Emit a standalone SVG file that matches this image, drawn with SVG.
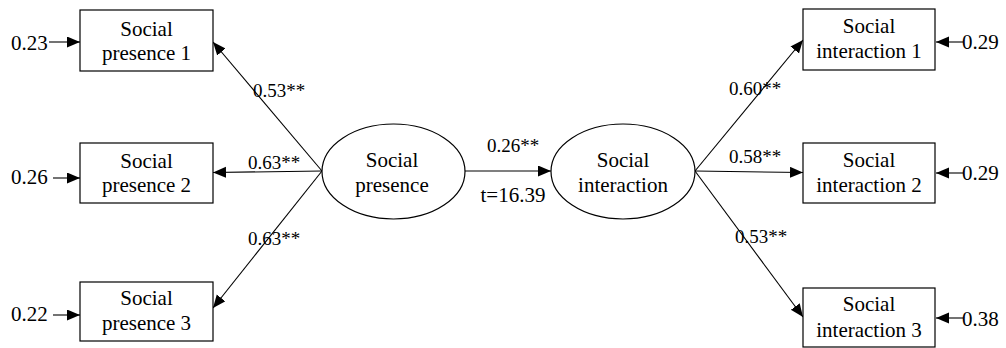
<svg xmlns="http://www.w3.org/2000/svg" width="1006" height="348" viewBox="0 0 1006 348" font-family="'Liberation Serif', 'Times New Roman', 'DejaVu Serif', serif">
<style>
text{font-family:'Liberation Serif','Times New Roman','DejaVu Serif',serif;font-size:21px;fill:#000}
.c{text-anchor:middle}
.box{fill:#fff;stroke:#000;stroke-width:1.2}
.ell{fill:#fff;stroke:#000;stroke-width:1.2}
.ln{stroke:#000;stroke-width:1.1;fill:none;marker-end:url(#ah)}
.lbl{font-size:19px}
</style>
<defs>
<marker id="ah" markerUnits="userSpaceOnUse" markerWidth="14" markerHeight="12" refX="13" refY="5.5" orient="auto">
<path d="M0,0 L13,5.5 L0,11 z" fill="#000"/>
</marker>
</defs>
<rect width="1006" height="348" fill="#fff"/>
<g id="connectors">
<line class="ln" x1="322" y1="171" x2="213" y2="42"/>
<line class="ln" x1="322" y1="171" x2="213" y2="172.5"/>
<line class="ln" x1="322" y1="171" x2="213" y2="308"/>
<line class="ln" x1="465" y1="171" x2="551" y2="171"/>
<line class="ln" x1="695" y1="171" x2="803" y2="40"/>
<line class="ln" x1="695" y1="171" x2="803" y2="172.5"/>
<line class="ln" x1="695" y1="171" x2="803" y2="317"/>
<line class="ln" x1="49" y1="42" x2="80" y2="42"/>
<line class="ln" x1="53" y1="178" x2="80" y2="178"/>
<line class="ln" x1="53" y1="315" x2="80" y2="315"/>
<line class="ln" x1="963" y1="42" x2="936" y2="42"/>
<line class="ln" x1="963" y1="173" x2="936" y2="173"/>
<line class="ln" x1="963" y1="318" x2="936" y2="318"/>
</g>
<g id="labels">
<text x="11" y="50">0.23</text>
<text x="11" y="184">0.26</text>
<text x="11" y="321">0.22</text>
<text x="962" y="49">0.29</text>
<text x="962" y="180">0.29</text>
<text x="962" y="326">0.38</text>
<text class="lbl" x="253" y="97">0.53**</text>
<text class="lbl" x="248" y="169">0.63**</text>
<text class="lbl" x="248" y="245">0.63**</text>
<text class="lbl" x="729" y="95">0.60**</text>
<text class="lbl" x="729" y="163">0.58**</text>
<text class="lbl" x="735" y="243">0.53**</text>
<text class="lbl c" x="513" y="152">0.26**</text>
<text class="c" x="513" y="202">t=16.39</text>
</g>
<g id="sp1"><rect class="box" x="80" y="10" width="133" height="61"/><text class="c" x="146.5" y="36">Social</text><text class="c" x="146.5" y="60">presence 1</text></g>
<g id="sp2"><rect class="box" x="80" y="143" width="133" height="60"/><text class="c" x="146.5" y="168">Social</text><text class="c" x="146.5" y="192">presence 2</text></g>
<g id="sp3"><rect class="box" x="80" y="282" width="133" height="59"/><text class="c" x="146.5" y="305">Social</text><text class="c" x="146.5" y="330">presence 3</text></g>
<g id="si1"><rect class="box" x="803" y="9" width="132" height="61"/><text class="c" x="869" y="33">Social</text><text class="c" x="869" y="58">interaction 1</text></g>
<g id="si2"><rect class="box" x="803" y="143" width="132" height="60"/><text class="c" x="869" y="167">Social</text><text class="c" x="869" y="192">interaction 2</text></g>
<g id="si3"><rect class="box" x="803" y="288" width="132" height="59"/><text class="c" x="869" y="311">Social</text><text class="c" x="869" y="337">interaction 3</text></g>
<g id="socialPresence"><ellipse class="ell" cx="393.5" cy="171.5" rx="71.5" ry="47.5"/><text class="c" x="392" y="167">Social</text><text class="c" x="392" y="192">presence</text></g>
<g id="socialInteraction"><ellipse class="ell" cx="623" cy="171.5" rx="72" ry="47.5"/><text class="c" x="623" y="167">Social</text><text class="c" x="623" y="192">interaction</text></g>
</svg>
